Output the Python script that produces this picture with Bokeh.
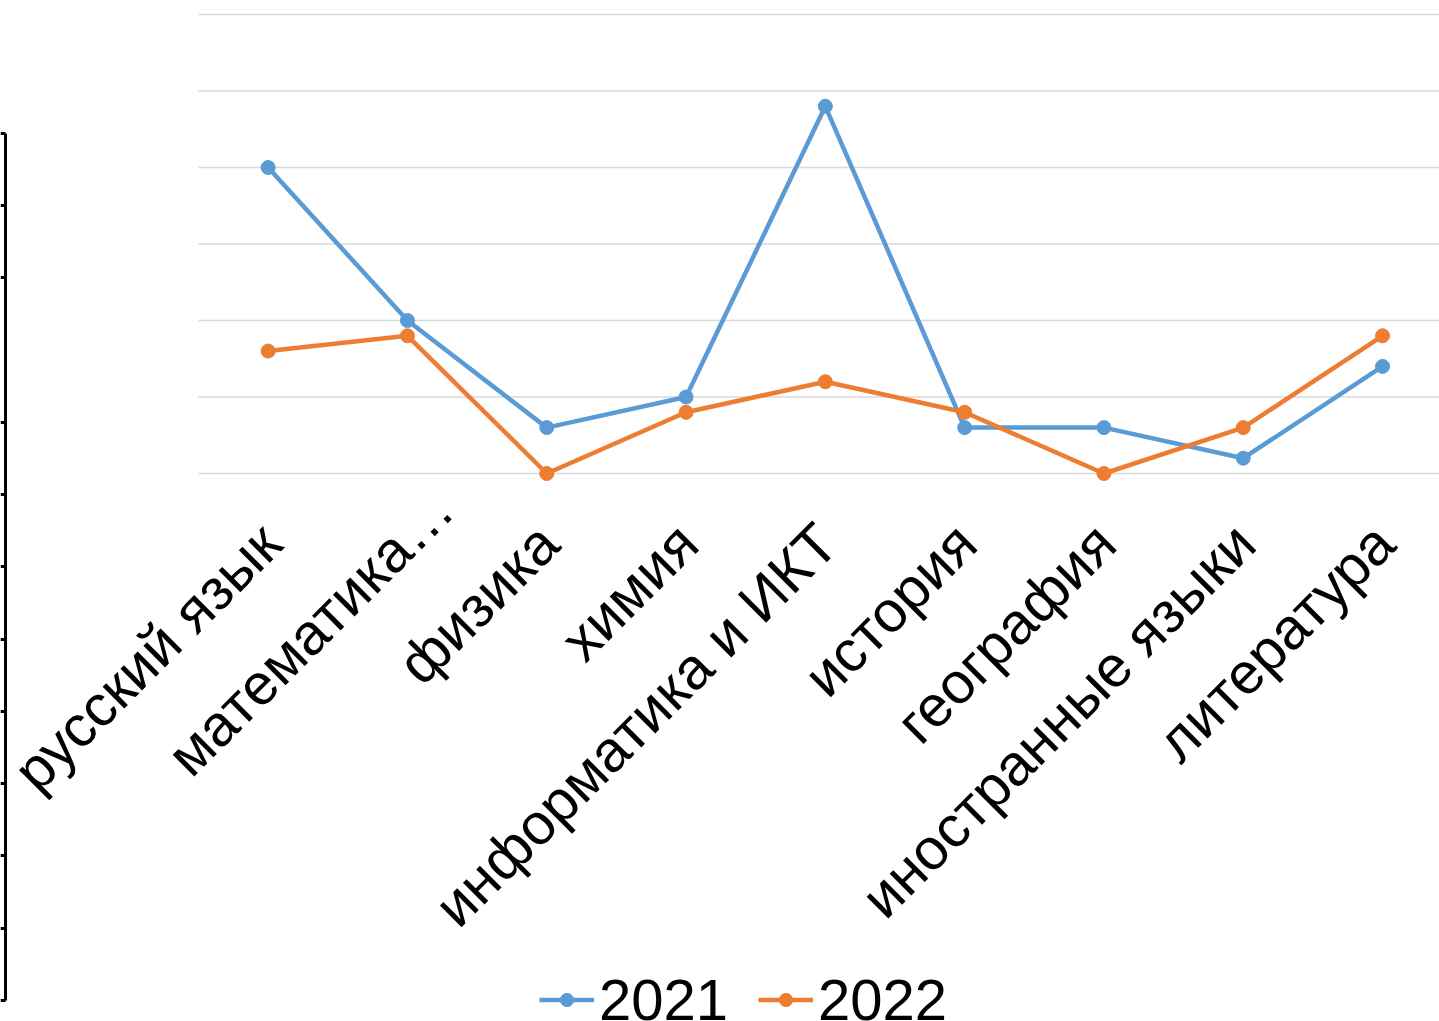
from math import pi
from bokeh.plotting import figure
from bokeh.models import Range1d, FixedTicker, LinearAxis, Legend, LegendItem
from bokeh.embed import file_html
from bokeh.resources import INLINE

categories = ["русский язык", "математика…", "физика", "химия", "информатика и ИКТ",
              "история", "география", "иностранные языки", "литература"]
values_2021 = [20, 10, 3, 5, 24, 3, 3, 1, 7]
values_2022 = [8, 9, 0, 4, 6, 4, 0, 3, 9]
series_names = ["2021", "2022"]
y_ticks = [0, 5, 10, 15, 20, 25, 30]
left_ticks = [0, 1, 2, 3, 4, 5, 6, 7, 8, 10, 11, 12]

BLUE = "#5B9BD5"
ORANGE = "#ED7D31"
FONT = "Liberation Sans"
LABEL_SIZE = "58px"
x_idx = list(range(len(categories)))
n = len(categories)
X0, X1 = -1.9214, 8.4088

# one plotting area covering the whole canvas
p = figure(width=1439, height=1021,
           x_range=Range1d(X0, X1), y_range=Range1d(-35.817, 30.915),
           output_backend="svg", toolbar_location=None,
           x_axis_location=None, y_axis_location=None,
           min_border_left=0, min_border_right=0, min_border_top=0, min_border_bottom=0)
p.outline_line_color = None
p.background_fill_color = "white"
p.border_fill_color = "white"
p.xgrid.visible = False
p.ygrid.visible = False

# horizontal gridlines over the category band only
p.segment(x0=[-0.5] * len(y_ticks), x1=[n - 0.5] * len(y_ticks), y0=y_ticks, y1=y_ticks,
          line_color="#D9D9D9", line_width=1.5)


def category_axis(range_name, shift, ticks, fixed):
    p.extra_x_ranges[range_name] = Range1d(X0 - shift, X1 - shift)
    ax = LinearAxis(x_range_name=range_name, ticker=FixedTicker(ticks=ticks),
                    major_label_overrides={i: categories[i] for i in ticks},
                    fixed_location=fixed)
    ax.major_label_orientation = pi / 4
    ax.axis_line_color = None
    ax.major_tick_line_color = None
    ax.minor_tick_line_color = None
    ax.major_label_standoff = 23
    ax.major_label_text_font = FONT
    ax.major_label_text_font_size = LABEL_SIZE
    ax.major_label_text_color = "black"
    p.add_layout(ax, "below")


truncated = [i for i, c in enumerate(categories) if c.endswith("…")]
regular = [i for i in x_idx if i not in truncated]
p.extra_x_ranges = {}
category_axis("lab", 0.01, regular, -2)
category_axis("lab_trunc", 0.254, truncated, 0.22)

# bare vertical axis at the far left
p.extra_y_ranges = {"strip": Range1d(-0.2907, 13.8408)}
sa = LinearAxis(y_range_name="strip", ticker=FixedTicker(ticks=left_ticks), bounds=(0, 12),
                major_label_overrides={t: "" for t in left_ticks}, fixed_location=-1.8855)
sa.axis_line_width = 3
sa.axis_line_color = "black"
sa.major_tick_line_width = 3
sa.major_tick_line_color = "black"
sa.major_tick_in = 0
sa.major_tick_out = 5
sa.minor_tick_line_color = None
sa.major_label_standoff = 0
p.add_layout(sa, "left")

items = []
for name, vals, col in [(series_names[0], values_2021, BLUE), (series_names[1], values_2022, ORANGE)]:
    lr = p.line(x_idx, vals, line_color=col, line_width=4.5)
    sr = p.scatter(x_idx, vals, size=14, marker="circle", fill_color=col, line_color=col)
    items.append(LegendItem(label=name, renderers=[lr, sr]))

legend = Legend(items=items, orientation="horizontal", location=(539, -12))
legend.label_text_font = FONT
legend.label_text_font_size = LABEL_SIZE
legend.label_text_color = "black"
legend.glyph_width = 55
legend.glyph_height = 33
legend.label_standoff = 5
legend.spacing = 30
legend.padding = 0
legend.margin = 0
legend.border_line_color = None
legend.background_fill_alpha = 0
p.add_layout(legend, "center")

open("out.html", "w").write(file_html(p, INLINE))
